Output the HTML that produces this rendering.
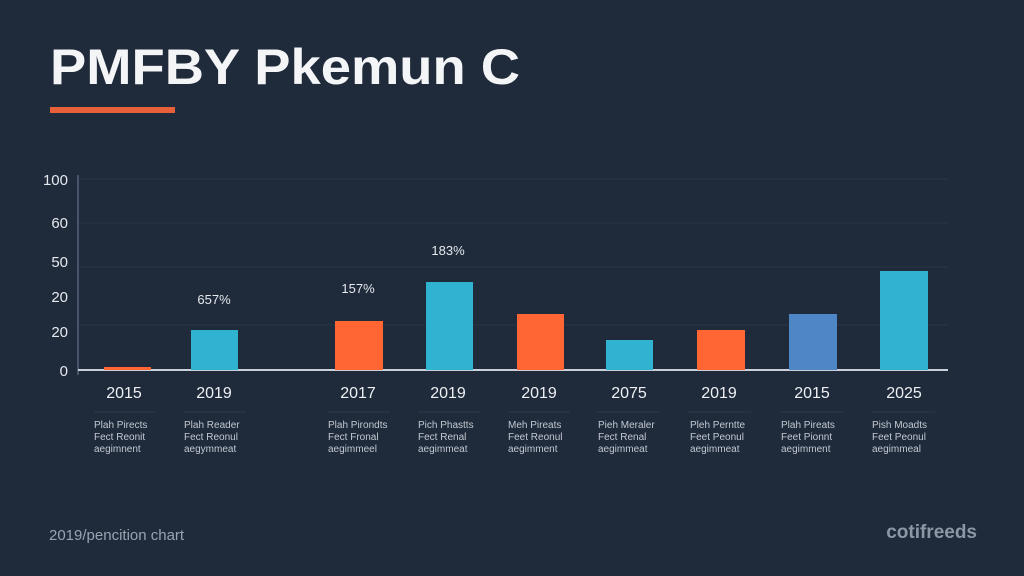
<!DOCTYPE html>
<html><head><meta charset="utf-8"><style>
html,body{margin:0;padding:0;background:#1f2a3b;}
svg{display:block}
text{font-family:"Liberation Sans",sans-serif;}
</style></head><body>
<svg width="1024" height="576" viewBox="0 0 1024 576" xmlns="http://www.w3.org/2000/svg">
<rect width="1024" height="576" fill="#1f2a3b"/>
<text x="50" y="84" font-size="50" font-weight="bold" fill="#f4f5f7" textLength="470" lengthAdjust="spacingAndGlyphs">PMFBY Pkemun C</text>
<rect x="50" y="107" width="125" height="6" fill="#e8603a"/>
<g stroke="#2a3647" stroke-width="1">
<line x1="78" y1="179" x2="948" y2="179"/>
<line x1="78" y1="223" x2="948" y2="223"/>
<line x1="78" y1="267" x2="948" y2="267"/>
<line x1="78" y1="325" x2="948" y2="325"/>
</g>
<line x1="78" y1="175" x2="78" y2="375" stroke="#56627a" stroke-width="1.5"/>
<line x1="78" y1="370" x2="948" y2="370" stroke="#c9d0da" stroke-width="2"/>
<g font-size="15" fill="#e6e9ee" text-anchor="end">
<text x="68" y="185">100</text>
<text x="68" y="228">60</text>
<text x="68" y="267">50</text>
<text x="68" y="302">20</text>
<text x="68" y="337">20</text>
<text x="68" y="376">0</text>
</g>
<rect x="104" y="367" width="47" height="3" fill="#ff6633"/>
<rect x="191" y="330" width="47" height="40" fill="#2fb3d0"/>
<rect x="335" y="321" width="48" height="49" fill="#ff6633"/>
<rect x="426" y="282" width="47" height="88" fill="#2fb3d0"/>
<rect x="517" y="314" width="47" height="56" fill="#ff6633"/>
<rect x="606" y="340" width="47" height="30" fill="#2fb3d0"/>
<rect x="697" y="330" width="48" height="40" fill="#ff6633"/>
<rect x="789" y="314" width="48" height="56" fill="#4f86c6"/>
<rect x="880" y="271" width="48" height="99" fill="#2fb3d0"/>
<g font-size="13" fill="#e6e9ee" text-anchor="middle">
<text x="214" y="304">657%</text>
<text x="358" y="293">157%</text>
<text x="448" y="255">183%</text>
</g>
<g font-size="16" fill="#eef0f3" text-anchor="middle">
<text x="124" y="398">2015</text><text x="214" y="398">2019</text>
<text x="358" y="398">2017</text><text x="448" y="398">2019</text>
<text x="539" y="398">2019</text><text x="629" y="398">2075</text>
<text x="719" y="398">2019</text><text x="812" y="398">2015</text>
<text x="904" y="398">2025</text>
</g>
<g stroke="#2c384a" stroke-width="1">
<line x1="94" y1="412" x2="156" y2="412"/><line x1="184" y1="412" x2="246" y2="412"/>
<line x1="328" y1="412" x2="390" y2="412"/><line x1="418" y1="412" x2="480" y2="412"/>
<line x1="508" y1="412" x2="570" y2="412"/><line x1="597" y1="412" x2="660" y2="412"/>
<line x1="688" y1="412" x2="751" y2="412"/><line x1="780" y1="412" x2="844" y2="412"/>
<line x1="871" y1="412" x2="935" y2="412"/>
</g>
<g font-size="10" fill="#c3c9d2">
<g transform="translate(94,0)"><text y="428">Plah Pirects</text><text y="440">Fect Reonit</text><text y="452">aegimnent</text></g>
<g transform="translate(184,0)"><text y="428">Plah Reader</text><text y="440">Fect Reonul</text><text y="452">aegymmeat</text></g>
<g transform="translate(328,0)"><text y="428">Plah Pirondts</text><text y="440">Fect Fronal</text><text y="452">aegimmeel</text></g>
<g transform="translate(418,0)"><text y="428">Pich Phastts</text><text y="440">Fect Renal</text><text y="452">aegimmeat</text></g>
<g transform="translate(508,0)"><text y="428">Meh Pireats</text><text y="440">Feet Reonul</text><text y="452">aegimment</text></g>
<g transform="translate(598,0)"><text y="428">Pieh Meraler</text><text y="440">Fect Renal</text><text y="452">aegimmeat</text></g>
<g transform="translate(690,0)"><text y="428">Pleh Perntte</text><text y="440">Feet Peonul</text><text y="452">aegimmeat</text></g>
<g transform="translate(781,0)"><text y="428">Plah Pireats</text><text y="440">Feet Pionnt</text><text y="452">aegimment</text></g>
<g transform="translate(872,0)"><text y="428">Pish Moadts</text><text y="440">Feet Peonul</text><text y="452">aegimmeal</text></g>
</g>
<text x="49" y="540" font-size="15" fill="#9aa3b0">2019/pencition chart</text>
<text x="977" y="538" font-size="19" font-weight="bold" fill="#8d96a4" text-anchor="end">cotifreeds</text>
</svg>
</body></html>
